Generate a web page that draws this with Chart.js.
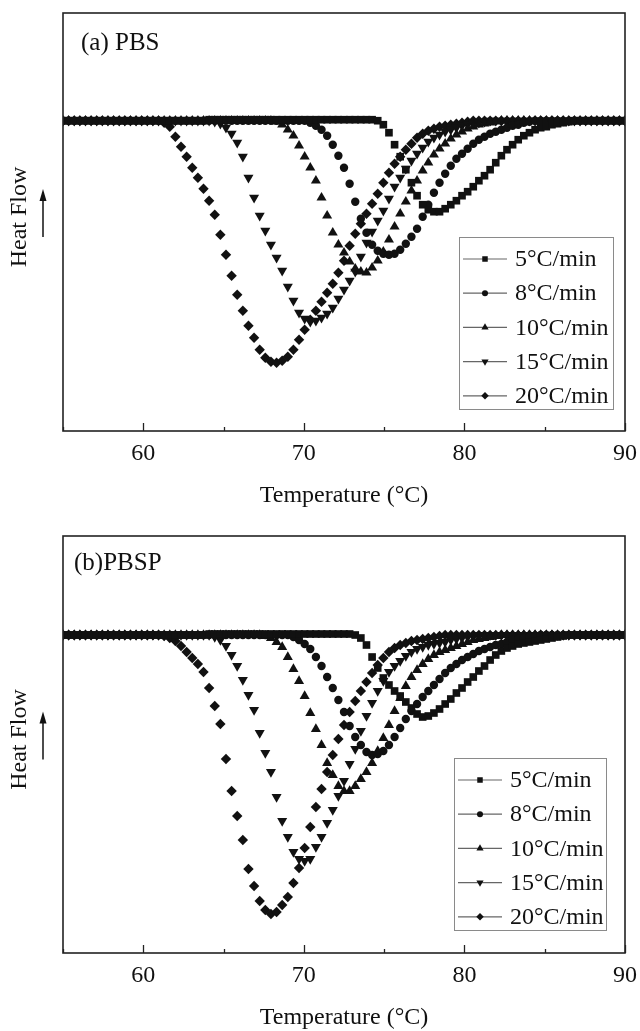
<!DOCTYPE html>
<html><head><meta charset="utf-8">
<script src="https://cdn.jsdelivr.net/npm/chart.js@4.4.1/dist/chart.umd.min.js"></script>
<style>
html,body{margin:0;padding:0;background:#fff;}
#wrap{position:relative;width:640px;height:1031px;overflow:hidden;background:#fff;}
canvas{position:absolute;left:0;}
#ca{top:0;} #cb{top:520px;}
</style></head><body>
<div id="wrap"><canvas id="ca" width="640" height="520"></canvas><canvas id="cb" width="640" height="514"></canvas></div>
<script>
const temperatureC = [55,55.35,55.7,56.05,56.4,56.75,57.1,57.45,57.8,58.15,
58.5,58.85,59.2,59.55,59.9,60.25,60.6,60.95,61.3,61.65,
62,62.35,62.7,63.05,63.4,63.75,64.1,64.45,64.8,65.15,
65.5,65.85,66.2,66.55,66.9,67.25,67.6,67.95,68.3,68.65,
69,69.35,69.7,70.05,70.4,70.75,71.1,71.45,71.8,72.15,
72.5,72.85,73.2,73.55,73.9,74.25,74.6,74.95,75.3,75.65,
76,76.35,76.7,77.05,77.4,77.75,78.1,78.45,78.8,79.15,
79.5,79.85,80.2,80.55,80.9,81.25,81.6,81.95,82.3,82.65,
83,83.35,83.7,84.05,84.4,84.75,85.1,85.45,85.8,86.15,
86.5,86.85,87.2,87.55,87.9,88.25,88.6,88.95,89.3,89.65,
90];
const rateLabels = ['5\u00B0C/min','8\u00B0C/min','10\u00B0C/min','15\u00B0C/min','20\u00B0C/min'];
const xTickLabels = [60,70,80,90];

// (a) PBS heat flow (arbitrary units, baseline 0)
const pbs5 = [0,0,0,0,0,0,0,0,0,0,
0,0,0,0,0,0,0,0,0,0,
0,0,0,0,0,0,0.01,0.01,0.01,0.01,
0.01,0.01,0.01,0.01,0.01,0.01,0.01,0.01,0.01,0.01,
0.01,0.01,0.01,0.01,0.01,0.01,0.01,0.01,0.01,0.01,
0.01,0.01,0.01,0.01,0.01,0.01,0,-0.04,-0.12,-0.24,
-0.36,-0.49,-0.62,-0.75,-0.84,-0.89,-0.91,-0.91,-0.88,-0.84,
-0.80,-0.75,-0.71,-0.66,-0.60,-0.55,-0.49,-0.42,-0.35,-0.29,
-0.24,-0.19,-0.15,-0.12,-0.09,-0.07,-0.06,-0.04,-0.03,-0.02,
-0.01,0,0,0,0,0,0,0,0,0,
0];
const pbs8 = [0,0,0,0,0,0,0,0,0,0,
0,0,0,0,0,0,0,0,0,0,
0,0,0,0,0,0,0,0,0,0,
0,0,0,0,0,0,0,0,0,0,
0,0,0,0,-0.02,-0.05,-0.09,-0.15,-0.24,-0.35,
-0.47,-0.63,-0.81,-0.98,-1.12,-1.24,-1.30,-1.33,-1.34,-1.33,
-1.29,-1.23,-1.16,-1.08,-0.96,-0.84,-0.72,-0.62,-0.53,-0.45,
-0.38,-0.33,-0.28,-0.23,-0.19,-0.16,-0.13,-0.11,-0.09,-0.07,
-0.05,-0.04,-0.02,-0.01,0,0,0,0,0,0,
0,0,0,0,0,0,0,0,0,0,
0];
const pbs10 = [0,0,0,0,0,0,0,0,0,0,
0,0,0,0,0,0,0,0,0,0,
0,0,0,0,0,0,0,0,0,0,
0,0,0,0,0,0,0,0,-0.01,-0.04,
-0.09,-0.15,-0.25,-0.36,-0.47,-0.60,-0.77,-0.95,-1.12,-1.24,
-1.32,-1.41,-1.48,-1.51,-1.52,-1.47,-1.40,-1.31,-1.19,-1.06,
-0.93,-0.81,-0.70,-0.60,-0.50,-0.42,-0.34,-0.28,-0.23,-0.18,
-0.14,-0.11,-0.08,-0.06,-0.04,-0.03,-0.02,-0.01,0,0,
0,0,0,0,0,0,0,0,0,0,
0,0,0,0,0,0,0,0,0,0,
0];
const pbs15 = [0,0,0,0,0,0,0,0,0,0,
0,0,0,0,0,0,0,0,0,0,
0,0,0,0,0,0,0,-0.01,-0.03,-0.07,
-0.13,-0.22,-0.36,-0.57,-0.77,-0.95,-1.10,-1.24,-1.37,-1.50,
-1.66,-1.80,-1.92,-1.98,-2.01,-2.00,-1.97,-1.93,-1.87,-1.78,
-1.69,-1.60,-1.51,-1.36,-1.22,-1.11,-1.00,-0.90,-0.78,-0.66,
-0.57,-0.48,-0.40,-0.33,-0.27,-0.21,-0.17,-0.14,-0.11,-0.09,
-0.07,-0.05,-0.04,-0.03,-0.02,-0.01,0,0,0,0,
0,0,0,0,0,0,0,0,0,0,
0,0,0,0,0,0,0,0,0,0,
0];
const pbs20 = [0,0,0,0,0,0,0,0,0,0,
0,0,0,0,0,0,0,0,-0.02,-0.06,
-0.16,-0.26,-0.36,-0.47,-0.57,-0.68,-0.80,-0.94,-1.14,-1.34,
-1.55,-1.74,-1.90,-2.05,-2.17,-2.29,-2.37,-2.41,-2.42,-2.40,
-2.36,-2.29,-2.19,-2.09,-1.99,-1.90,-1.81,-1.72,-1.63,-1.52,
-1.40,-1.25,-1.13,-1.03,-0.93,-0.83,-0.73,-0.62,-0.52,-0.43,
-0.36,-0.29,-0.23,-0.17,-0.13,-0.10,-0.08,-0.06,-0.05,-0.04,
-0.03,-0.02,-0.01,0,0,0,0,0,0,0,
0,0,0,0,0,0,0,0,0,0,
0,0,0,0,0,0,0,0,0,0,
0];

// (b) PBSP heat flow
const pbsp5 = [0,0,0,0,0,0,0,0,0,0,
0,0,0,0,0,0,0,0,0,0,
0,0,0,0,0,0,0.01,0.01,0.01,0.01,
0.01,0.01,0.01,0.01,0.01,0.01,0.01,0.01,0.01,0.01,
0.01,0.01,0.01,0.01,0.01,0.01,0.01,0.01,0.01,0.01,
0.01,0.01,0,-0.03,-0.10,-0.22,-0.33,-0.43,-0.50,-0.56,
-0.61,-0.67,-0.73,-0.79,-0.82,-0.81,-0.78,-0.74,-0.69,-0.64,
-0.58,-0.53,-0.47,-0.42,-0.36,-0.31,-0.25,-0.20,-0.16,-0.13,
-0.11,-0.09,-0.08,-0.07,-0.06,-0.05,-0.04,-0.03,-0.02,-0.01,
0,0,0,0,0,0,0,0,0,0,
0];
const pbsp8 = [0,0,0,0,0,0,0,0,0,0,
0,0,0,0,0,0,0,0,0,0,
0,0,0,0,0,0,0,0,0,0,
0,0,0,0,0,0,0,0,0,0,
0,-0.02,-0.05,-0.09,-0.14,-0.22,-0.31,-0.42,-0.53,-0.65,
-0.77,-0.91,-1.02,-1.10,-1.17,-1.20,-1.19,-1.16,-1.10,-1.02,
-0.93,-0.84,-0.76,-0.69,-0.62,-0.56,-0.50,-0.44,-0.38,-0.33,
-0.29,-0.25,-0.22,-0.19,-0.16,-0.14,-0.12,-0.10,-0.09,-0.07,
-0.05,-0.04,-0.03,-0.02,-0.01,0,0,0,0,0,
0,0,0,0,0,0,0,0,0,0,
0];
const pbsp10 = [0,0,0,0,0,0,0,0,0,0,
0,0,0,0,0,0,0,0,0,0,
0,0,0,0,0,0,0,0,0,0,
0,0,0,0,0,0,-0.01,-0.03,-0.07,-0.12,
-0.22,-0.34,-0.46,-0.61,-0.78,-0.94,-1.10,-1.28,-1.40,-1.51,
-1.56,-1.56,-1.51,-1.44,-1.37,-1.28,-1.16,-1.03,-0.90,-0.76,
-0.63,-0.51,-0.42,-0.35,-0.29,-0.24,-0.20,-0.17,-0.15,-0.13,
-0.11,-0.09,-0.07,-0.05,-0.04,-0.03,-0.02,-0.01,0,0,
0,0,0,0,0,0,0,0,0,0,
0,0,0,0,0,0,0,0,0,0,
0];
const pbsp15 = [0,0,0,0,0,0,0,0,0,0,
0,0,0,0,0,0,0,0,0,0,
0,0,0,0,0,0,0,-0.02,-0.05,-0.11,
-0.20,-0.31,-0.45,-0.60,-0.75,-0.98,-1.18,-1.37,-1.62,-1.86,
-2.02,-2.17,-2.24,-2.26,-2.24,-2.12,-2.02,-1.88,-1.75,-1.61,
-1.46,-1.29,-1.14,-0.96,-0.81,-0.68,-0.56,-0.46,-0.37,-0.31,
-0.26,-0.21,-0.17,-0.14,-0.12,-0.10,-0.09,-0.08,-0.07,-0.05,
-0.04,-0.03,-0.02,-0.01,0,0,0,0,0,0,
0,0,0,0,0,0,0,0,0,0,
0,0,0,0,0,0,0,0,0,0,
0];
const pbsp20 = [0,0,0,0,0,0,0,0,0,0,
0,0,0,0,0,0,0,0,-0.01,-0.03,
-0.06,-0.11,-0.17,-0.23,-0.29,-0.37,-0.53,-0.71,-0.89,-1.24,
-1.56,-1.81,-2.05,-2.34,-2.51,-2.66,-2.75,-2.79,-2.77,-2.70,
-2.62,-2.48,-2.33,-2.13,-1.92,-1.72,-1.54,-1.37,-1.20,-1.04,
-0.90,-0.77,-0.66,-0.56,-0.47,-0.38,-0.30,-0.23,-0.17,-0.13,
-0.10,-0.08,-0.06,-0.05,-0.04,-0.03,-0.02,-0.01,0,0,
0,0,0,0,0,0,0,0,0,0,
0,0,0,0,0,0,0,0,0,0,
0,0,0,0,0,0,0,0,0,0,
0];

const FONT = "'Liberation Serif','Times New Roman',serif";
Chart.defaults.font.family = FONT;
Chart.defaults.color = '#111';

const markerStyle = [
  {pointStyle:'rect', radius:5.4, rotation:0},
  {pointStyle:'circle', radius:4.2, rotation:0},
  {pointStyle:'triangle', radius:5.8, rotation:0},
  {pointStyle:'triangle', radius:5.8, rotation:180},
  {pointStyle:'rectRot', radius:5.2, rotation:0}
];

function drawMarker(ctx, st, x, y, r) {
  ctx.beginPath();
  if (st.pointStyle === 'rect') {
    const s = r * Math.SQRT1_2;
    ctx.rect(x - s, y - s, 2*s, 2*s);
  } else if (st.pointStyle === 'circle') {
    ctx.arc(x, y, r, 0, Math.PI*2);
  } else if (st.pointStyle === 'triangle') {
    const d = st.rotation === 180 ? -1 : 1;
    ctx.moveTo(x, y - d*r);
    ctx.lineTo(x + r*0.866, y + d*r*0.5);
    ctx.lineTo(x - r*0.866, y + d*r*0.5);
    ctx.closePath();
  } else {
    ctx.moveTo(x, y - r); ctx.lineTo(x + r, y); ctx.lineTo(x, y + r); ctx.lineTo(x - r, y); ctx.closePath();
  }
  ctx.fill();
}

const decor = {
  id: 'decor',
  afterDraw(chart, args, o) {
    const {ctx, chartArea: a, scales: {x}} = chart;
    ctx.save();
    // inward ticks
    ctx.strokeStyle = '#222';
    ctx.lineWidth = 1.3;
    x.ticks.forEach(t => {
      const px = Math.round(x.getPixelForValue(t.value)) + 0.5;
      const len = (t.value % 10 === 0) ? 8 : 4;
      ctx.beginPath(); ctx.moveTo(px, a.bottom); ctx.lineTo(px, a.bottom - len); ctx.stroke();
    });
    // frame
    ctx.lineWidth = 1.6;
    ctx.strokeStyle = '#222';
    ctx.strokeRect(a.left, a.top, a.right - a.left, a.bottom - a.top);
    // panel label
    ctx.fillStyle = '#111';
    ctx.font = '25px ' + FONT;
    ctx.textAlign = 'left'; ctx.textBaseline = 'middle';
    ctx.fillText(o.label, a.left + o.labelDx, a.top + o.labelDy);
    // y title + arrow
    const cy = (a.top + a.bottom) / 2;
    ctx.save();
    ctx.translate(20, cy - 5);
    ctx.rotate(-Math.PI/2);
    ctx.font = '24px ' + FONT;
    ctx.textAlign = 'center'; ctx.textBaseline = 'middle';
    ctx.fillText('Heat Flow', 0, 0);
    ctx.restore();
    ctx.lineWidth = 1.5; ctx.strokeStyle = '#111';
    ctx.beginPath(); ctx.moveTo(43, cy + 15); ctx.lineTo(43, cy - 23); ctx.stroke();
    ctx.beginPath(); ctx.moveTo(43, cy - 33); ctx.lineTo(46.5, cy - 21); ctx.lineTo(39.5, cy - 21); ctx.closePath(); ctx.fill();
    // legend
    const lw = o.legendW, lh = 172;
    const lx = a.right - o.legendRight - lw, ly = a.bottom - o.legendBottom - lh;
    ctx.fillStyle = '#fff';
    ctx.fillRect(lx, ly, lw, lh);
    ctx.strokeStyle = '#8a8a8a'; ctx.lineWidth = 1;
    ctx.strokeRect(lx + 0.5, ly + 0.5, lw, lh);
    ctx.font = '24px ' + FONT;
    ctx.textAlign = 'left'; ctx.textBaseline = 'middle';
    chart.data.datasets.forEach((ds, i) => {
      const ry = ly + 22 + i * 34.2;
      ctx.strokeStyle = '#666'; ctx.lineWidth = 1.2;
      ctx.beginPath(); ctx.moveTo(lx + 4, ry); ctx.lineTo(lx + 48, ry); ctx.stroke();
      ctx.fillStyle = '#111';
      drawMarker(ctx, markerStyle[i], lx + 26, ry, markerStyle[i].radius * 0.72);
      ctx.fillText(ds.label, lx + 56, ry + 1);
    });
    ctx.restore();
  }
};

function makeChart(id, series, ymin, ymax, padTop, padBottom, decorOpts) {
  const datasets = series.map((vals, i) => ({
    label: rateLabels[i],
    data: temperatureC.map((t, j) => ({x: t, y: vals[j]})),
    showLine: false,
    pointStyle: markerStyle[i].pointStyle,
    pointRotation: markerStyle[i].rotation,
    pointRadius: markerStyle[i].radius,
    pointBackgroundColor: '#111',
    pointBorderColor: '#111',
    pointBorderWidth: 0,
    pointHoverRadius: markerStyle[i].radius
  }));
  return new Chart(document.getElementById(id), {
    type: 'scatter',
    data: {datasets},
    options: {
      animation: false, responsive: false, devicePixelRatio: 1,
      events: [],
      layout: {padding: {left: 63, right: 15, top: padTop, bottom: padBottom}},
      plugins: {legend: {display: false}, tooltip: {enabled: false}, decor: decorOpts},
      scales: {
        x: {
          type: 'linear', min: 55, max: 90,
          grid: {display: false, drawTicks: false},
          border: {display: false},
          afterFit: s => { s.paddingRight = 8; s.paddingLeft = 0; },
          ticks: {stepSize: 5, padding: 8, color: '#111', font: {size: 24}, autoSkip: false, maxRotation: 0,
            callback: v => xTickLabels.includes(v) ? String(v) : ''},
          title: {display: true, text: 'Temperature (\u00B0C)', color: '#111', font: {size: 24}, padding: {top: 6, bottom: 0}}
        },
        y: {display: false, min: ymin, max: ymax}
      }
    },
    plugins: [decor]
  });
}

makeChart('ca', [pbs5, pbs8, pbs10, pbs15, pbs20], -3.103, 1.077, 13, 9.4,
  {label: '(a) PBS', labelDx: 18, labelDy: 30, legendRight: 12, legendBottom: 22, legendW: 154});
makeChart('cb', [pbsp5, pbsp8, pbsp10, pbsp15, pbsp20], -3.18, 0.99, 16, 1.4,
  {label: '(b)PBSP', labelDx: 11, labelDy: 27, legendRight: 19, legendBottom: 23, legendW: 152});
</script>
</body></html>
